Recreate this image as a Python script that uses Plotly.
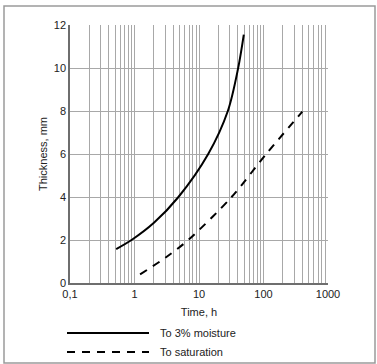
import plotly.graph_objects as go

# Data
moist_time = [0.52, 0.9, 2.0, 4.8, 13.9, 28.0, 40.5, 49.5]
moist_thick = [1.58, 2.0, 2.8, 4.0, 6.0, 8.0, 10.0, 11.55]
sat_time = [1.22, 3.16, 6.8, 32.0, 110.0, 400.0]
sat_thick = [0.4, 1.22, 2.0, 4.0, 6.0, 7.97]

x_major = [0.1, 1, 10, 100, 1000]
x_labels = ["0,1", "1", "10", "100", "1000"]
y_ticks = [0, 2, 4, 6, 8, 10, 12]

FONT = "Liberation Sans Narrow, Arial Narrow, Liberation Sans, Arial, sans-serif"
TXT = "#222"

tickvals, ticktext = [], []
for d, lab in zip(x_major[:-1], x_labels[:-1]):
    for m in range(1, 10):
        tickvals.append(d * m)
        ticktext.append(lab if m == 1 else "")
tickvals.append(x_major[-1])
ticktext.append(x_labels[-1])

fig = go.Figure()
fig.add_trace(go.Scatter(x=moist_time, y=moist_thick, mode="lines",
                         line=dict(color="black", width=2, shape="spline", smoothing=0.9),
                         name="To 3% moisture", showlegend=False))
fig.add_trace(go.Scatter(x=sat_time, y=sat_thick, mode="lines",
                         line=dict(color="black", width=2, dash="8px,7px", shape="spline", smoothing=0.9),
                         name="To saturation", showlegend=False))

fig.update_xaxes(type="log", range=[-1, 3], tickvals=tickvals, ticktext=ticktext,
                 showgrid=True, gridcolor="#a8a8a8", gridwidth=1,
                 showline=True, linecolor="#6e6e6e", linewidth=1.5,
                 ticks="", ticklen=0, tickfont=dict(family=FONT, size=11, color=TXT),
                 title=dict(text="Time, h", font=dict(family=FONT, size=11, color=TXT), standoff=9),
                 zeroline=False)
fig.update_yaxes(range=[0, 12], tickvals=y_ticks,
                 showgrid=True, gridcolor="#a8a8a8", gridwidth=1,
                 showline=True, linecolor="#6e6e6e", linewidth=1.5,
                 ticks="", ticklen=0, tickfont=dict(family=FONT, size=11, color=TXT),
                 title=dict(text="Thickness, mm", font=dict(family=FONT, size=11, color=TXT), standoff=4),
                 zeroline=False)

shapes = [
    # outer frame
    dict(type="rect", xref="paper", yref="paper", x0=-66 / 258, x1=305 / 258,
         y0=-80 / 258, y1=277 / 258, line=dict(color="#9a9a9a", width=1.5), layer="below"),
    # legend samples
    dict(type="line", xref="paper", yref="paper", x0=-3 / 258, x1=79 / 258,
         y0=-50 / 258, y1=-50 / 258, line=dict(color="black", width=2)),
    dict(type="line", xref="paper", yref="paper", x0=-3 / 258, x1=79 / 258,
         y0=-69 / 258, y1=-69 / 258, line=dict(color="black", width=2, dash="8px,7px")),
]
annotations = [
    dict(text="To 3% moisture", xref="paper", yref="paper", x=88 / 258, y=-50 / 258,
         xanchor="left", yanchor="middle", showarrow=False,
         font=dict(family=FONT, size=11, color=TXT)),
    dict(text="To saturation", xref="paper", yref="paper", x=88 / 258, y=-69 / 258,
         xanchor="left", yanchor="middle", showarrow=False,
         font=dict(family=FONT, size=11, color=TXT)),
]

fig.update_layout(width=377, height=364, margin=dict(l=70, r=49, t=25, b=81),
                  paper_bgcolor="white", plot_bgcolor="white",
                  shapes=shapes, annotations=annotations, showlegend=False)

fig.write_html("out.html")
